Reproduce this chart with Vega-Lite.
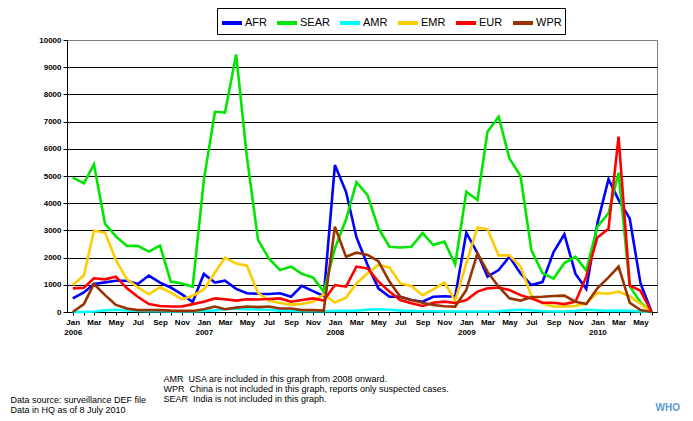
{
  "$schema": "https://vega.github.io/schema/vega-lite/v6.json",
  "width": 590,
  "height": 272,
  "autosize": "none",
  "padding": {"left": 67, "top": 40, "right": 36, "bottom": 109},
  "background": "white",
  "config": {"view": {"stroke": "#808080", "strokeWidth": 1}, "font": "Liberation Sans"},
  "title": {"text": "WHO", "orient": "bottom", "anchor": "end", "frame": "group", "color": "#5b9bd5", "fontSize": 10, "fontWeight": "bold", "font": "Liberation Sans", "offset": -12, "dx": 23},
  "data": {"values": [
    {"d": "2006-01-01", "AFR": 500, "SEAR": 4940, "AMR": 0, "EMR": 990, "EUR": 870, "WPR": 0},
    {"d": "2006-02-01", "AFR": 720, "SEAR": 4730, "AMR": 0, "EMR": 1340, "EUR": 890, "WPR": 290},
    {"d": "2006-03-01", "AFR": 1030, "SEAR": 5430, "AMR": 20, "EMR": 2990, "EUR": 1240, "WPR": 1030},
    {"d": "2006-04-01", "AFR": 1090, "SEAR": 3240, "AMR": 60, "EMR": 2920, "EUR": 1200, "WPR": 620},
    {"d": "2006-05-01", "AFR": 1150, "SEAR": 2780, "AMR": 80, "EMR": 1910, "EUR": 1300, "WPR": 260},
    {"d": "2006-06-01", "AFR": 1150, "SEAR": 2430, "AMR": 60, "EMR": 1200, "EUR": 870, "WPR": 130},
    {"d": "2006-07-01", "AFR": 1030, "SEAR": 2430, "AMR": 40, "EMR": 910, "EUR": 560, "WPR": 70},
    {"d": "2006-08-01", "AFR": 1340, "SEAR": 2220, "AMR": 30, "EMR": 650, "EUR": 290, "WPR": 70},
    {"d": "2006-09-01", "AFR": 1080, "SEAR": 2440, "AMR": 30, "EMR": 910, "EUR": 220, "WPR": 70},
    {"d": "2006-10-01", "AFR": 900, "SEAR": 1120, "AMR": 20, "EMR": 710, "EUR": 200, "WPR": 50},
    {"d": "2006-11-01", "AFR": 650, "SEAR": 1050, "AMR": 20, "EMR": 470, "EUR": 200, "WPR": 40},
    {"d": "2006-12-01", "AFR": 370, "SEAR": 930, "AMR": 20, "EMR": 600, "EUR": 290, "WPR": 40},
    {"d": "2007-01-01", "AFR": 1400, "SEAR": 4850, "AMR": 40, "EMR": 830, "EUR": 380, "WPR": 100},
    {"d": "2007-02-01", "AFR": 1080, "SEAR": 7360, "AMR": 60, "EMR": 1450, "EUR": 500, "WPR": 200},
    {"d": "2007-03-01", "AFR": 1150, "SEAR": 7330, "AMR": 100, "EMR": 2000, "EUR": 470, "WPR": 100},
    {"d": "2007-04-01", "AFR": 850, "SEAR": 9470, "AMR": 120, "EMR": 1780, "EUR": 420, "WPR": 160},
    {"d": "2007-05-01", "AFR": 690, "SEAR": 5700, "AMR": 100, "EMR": 1700, "EUR": 470, "WPR": 200},
    {"d": "2007-06-01", "AFR": 670, "SEAR": 2650, "AMR": 90, "EMR": 700, "EUR": 460, "WPR": 180},
    {"d": "2007-07-01", "AFR": 660, "SEAR": 1970, "AMR": 80, "EMR": 420, "EUR": 480, "WPR": 200},
    {"d": "2007-08-01", "AFR": 690, "SEAR": 1540, "AMR": 50, "EMR": 330, "EUR": 500, "WPR": 130},
    {"d": "2007-09-01", "AFR": 560, "SEAR": 1670, "AMR": 40, "EMR": 270, "EUR": 380, "WPR": 130},
    {"d": "2007-10-01", "AFR": 960, "SEAR": 1400, "AMR": 30, "EMR": 300, "EUR": 440, "WPR": 70},
    {"d": "2007-11-01", "AFR": 770, "SEAR": 1270, "AMR": 30, "EMR": 380, "EUR": 500, "WPR": 70},
    {"d": "2007-12-01", "AFR": 590, "SEAR": 750, "AMR": 30, "EMR": 650, "EUR": 420, "WPR": 50},
    {"d": "2008-01-01", "AFR": 5400, "SEAR": 2340, "AMR": 40, "EMR": 350, "EUR": 990, "WPR": 3140},
    {"d": "2008-02-01", "AFR": 4420, "SEAR": 3400, "AMR": 40, "EMR": 530, "EUR": 930, "WPR": 2030},
    {"d": "2008-03-01", "AFR": 2750, "SEAR": 4770, "AMR": 50, "EMR": 1050, "EUR": 1670, "WPR": 2180},
    {"d": "2008-04-01", "AFR": 1730, "SEAR": 4300, "AMR": 80, "EMR": 1420, "EUR": 1600, "WPR": 2100},
    {"d": "2008-05-01", "AFR": 870, "SEAR": 3080, "AMR": 100, "EMR": 1730, "EUR": 1120, "WPR": 1870},
    {"d": "2008-06-01", "AFR": 560, "SEAR": 2400, "AMR": 80, "EMR": 1640, "EUR": 750, "WPR": 1120},
    {"d": "2008-07-01", "AFR": 560, "SEAR": 2370, "AMR": 50, "EMR": 1050, "EUR": 440, "WPR": 560},
    {"d": "2008-08-01", "AFR": 440, "SEAR": 2400, "AMR": 40, "EMR": 960, "EUR": 320, "WPR": 440},
    {"d": "2008-09-01", "AFR": 380, "SEAR": 2900, "AMR": 30, "EMR": 620, "EUR": 220, "WPR": 340},
    {"d": "2008-10-01", "AFR": 560, "SEAR": 2460, "AMR": 30, "EMR": 830, "EUR": 340, "WPR": 260},
    {"d": "2008-11-01", "AFR": 580, "SEAR": 2590, "AMR": 20, "EMR": 1080, "EUR": 380, "WPR": 210},
    {"d": "2008-12-01", "AFR": 560, "SEAR": 1750, "AMR": 20, "EMR": 420, "EUR": 330, "WPR": 200},
    {"d": "2009-01-01", "AFR": 2920, "SEAR": 4420, "AMR": 20, "EMR": 1790, "EUR": 440, "WPR": 810},
    {"d": "2009-02-01", "AFR": 2160, "SEAR": 4120, "AMR": 20, "EMR": 3110, "EUR": 750, "WPR": 2160},
    {"d": "2009-03-01", "AFR": 1300, "SEAR": 6630, "AMR": 20, "EMR": 3040, "EUR": 870, "WPR": 1480},
    {"d": "2009-04-01", "AFR": 1540, "SEAR": 7180, "AMR": 30, "EMR": 2080, "EUR": 900, "WPR": 930},
    {"d": "2009-05-01", "AFR": 2030, "SEAR": 5650, "AMR": 60, "EMR": 2080, "EUR": 810, "WPR": 500},
    {"d": "2009-06-01", "AFR": 1420, "SEAR": 5000, "AMR": 80, "EMR": 1670, "EUR": 620, "WPR": 420},
    {"d": "2009-07-01", "AFR": 990, "SEAR": 2280, "AMR": 60, "EMR": 600, "EUR": 500, "WPR": 540},
    {"d": "2009-08-01", "AFR": 1100, "SEAR": 1430, "AMR": 30, "EMR": 320, "EUR": 340, "WPR": 560},
    {"d": "2009-09-01", "AFR": 2200, "SEAR": 1230, "AMR": 20, "EMR": 200, "EUR": 340, "WPR": 590},
    {"d": "2009-10-01", "AFR": 2860, "SEAR": 1800, "AMR": 20, "EMR": 200, "EUR": 290, "WPR": 600},
    {"d": "2009-11-01", "AFR": 1400, "SEAR": 2030, "AMR": 40, "EMR": 220, "EUR": 380, "WPR": 380},
    {"d": "2009-12-01", "AFR": 850, "SEAR": 1520, "AMR": 80, "EMR": 330, "EUR": 1300, "WPR": 290},
    {"d": "2010-01-01", "AFR": 3260, "SEAR": 3140, "AMR": 60, "EMR": 700, "EUR": 2740, "WPR": 870},
    {"d": "2010-02-01", "AFR": 4880, "SEAR": 3630, "AMR": 40, "EMR": 670, "EUR": 3060, "WPR": 1270},
    {"d": "2010-03-01", "AFR": 4120, "SEAR": 5120, "AMR": 50, "EMR": 750, "EUR": 6450, "WPR": 1670},
    {"d": "2010-04-01", "AFR": 3440, "SEAR": 950, "AMR": 40, "EMR": 580, "EUR": 980, "WPR": 340},
    {"d": "2010-05-01", "AFR": 1060, "SEAR": 350, "AMR": 20, "EMR": 300, "EUR": 780, "WPR": 70},
    {"d": "2010-06-01", "AFR": 0, "SEAR": 0, "AMR": 0, "EMR": 0, "EUR": 0, "WPR": 0}
  ]},
  "transform": [{"fold": ["AFR", "SEAR", "AMR", "EMR", "EUR", "WPR"], "as": ["region", "cases"]}],
  "mark": {"type": "line", "strokeWidth": 2.6},
  "encoding": {
    "x": {
      "field": "d", "type": "temporal",
      "scale": {"type": "utc", "domain": [{"year": 2005, "month": 12, "date": 16, "utc": true}, {"year": 2010, "month": 6, "date": 16, "utc": true}]},
      "axis": {
        "tickCount": {"interval": "month", "step": 1},
        "labelExpr": "utcmonth(datum.value) == 0 ? ['Jan', utcFormat(datum.value, '%Y')] : (utcmonth(datum.value) % 2 == 0 ? utcFormat(datum.value, '%b') : '')",
        "labelOverlap": false, "labelFlush": false,
        "labelFont": "Liberation Sans", "labelFontWeight": "bold", "labelFontSize": 8, "labelColor": "black", "labelLineHeight": 10, "labelPadding": 3, "labelBaseline": "top",
        "tickSize": 3, "tickColor": "black", "domainColor": "black", "grid": false,
        "title": ["AMR\u00a0\u00a0USA are included in this graph from 2008 onward.", "WPR\u00a0\u00a0China is not included in this graph, reports only suspected cases.", "SEAR\u00a0\u00a0India is not included in this graph."],
        "titleX": 96, "titleY": 62, "titleAlign": "left", "titleBaseline": "top", "titleAnchor": "start",
        "titleFont": "Liberation Sans", "titleFontWeight": "normal", "titleFontSize": 9, "titleLineHeight": 10, "titleColor": "black"
      }
    },
    "y": {
      "field": "cases", "type": "quantitative",
      "scale": {"domain": [0, 10000], "nice": false},
      "axis": {
        "values": [0, 1000, 2000, 3000, 4000, 5000, 6000, 7000, 8000, 9000, 10000],
        "format": "d",
        "labelFont": "Liberation Sans", "labelFontWeight": "bold", "labelFontSize": 8, "labelColor": "black", "labelPadding": 2,
        "tickSize": 4, "tickColor": "black", "domainColor": "black",
        "gridColor": {"condition": {"test": "datum.value == 10000", "value": "#808080"}, "value": "black"},
        "gridOpacity": 1, "gridWidth": 1,
        "title": ["Data source: surveillance DEF file", "Data in HQ as of 8 July 2010"],
        "titleAngle": 0, "titleX": -57, "titleY": 355, "titleAlign": "left", "titleBaseline": "top", "titleAnchor": "start",
        "titleFont": "Liberation Sans", "titleFontWeight": "normal", "titleFontSize": 9, "titleLineHeight": 10.5, "titleColor": "black"
      }
    },
    "color": {
      "field": "region", "type": "nominal",
      "scale": {"domain": ["AFR", "SEAR", "AMR", "EMR", "EUR", "WPR"], "range": ["#0000ff", "#00e600", "#00ffff", "#ffcc00", "#ff0000", "#993300"]},
      "legend": {
        "orient": "none", "legendX": 150, "legendY": -32, "direction": "horizontal", "columns": 6, "title": null,
        "symbolType": "stroke", "symbolSize": 400, "symbolStrokeWidth": 4,
        "labelFont": "Liberation Sans", "labelFontSize": 11, "labelColor": "black", "labelOffset": 1, "labelLimit": 0,
        "columnPadding": 2, "strokeColor": "black", "padding": 3
      }
    }
  }
}
